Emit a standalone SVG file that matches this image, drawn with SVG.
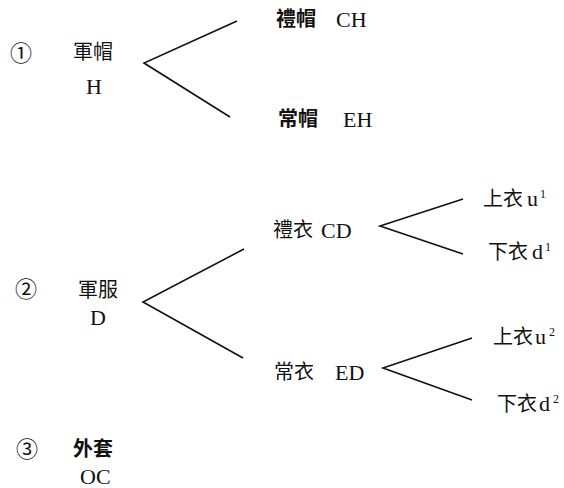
<svg xmlns="http://www.w3.org/2000/svg" width="564" height="488" viewBox="0 0 564 488">
<style>
.cjk{font-family:"Noto Sans CJK TC","Noto Sans CJK SC",sans-serif;font-size:20px;fill:#111}
.b{font-weight:bold}
.lat{font-family:"Liberation Serif","Times New Roman",serif;font-size:22px;fill:#111}
.sup{font-family:"Liberation Serif","Times New Roman",serif;font-size:12px;fill:#111}
.num{font-family:"DejaVu Serif","Noto Sans CJK TC",serif;font-size:22px;fill:#111}
.ln{fill:none;stroke:#111;stroke-width:1.6;stroke-linejoin:miter}
</style>
<rect width="564" height="488" fill="#fff"/>
<g id="connectors">
<polyline class="ln" points="237,21 144,63 230,117"/>
<polyline class="ln" points="244,249 143,302 243,358"/>
<polyline class="ln" points="463,199 380,226 463,254"/>
<polyline class="ln" points="472,338 383,368 472,400"/>
</g>
<g id="n1">
<text class="num" x="10" y="61">①</text>
<text class="cjk" x="73" y="59">軍帽</text>
<text class="lat" x="86" y="94">H</text>
</g>
<g id="n1a">
<text class="cjk b" x="276" y="26">禮帽</text>
<text class="lat" x="336" y="27">CH</text>
</g>
<g id="n1b">
<text class="cjk b" x="278" y="126">常帽</text>
<text class="lat" x="343" y="127">EH</text>
</g>
<g id="n2">
<text class="num" x="15" y="297">②</text>
<text class="cjk" x="78" y="297">軍服</text>
<text class="lat" x="90" y="325">D</text>
</g>
<g id="n2a">
<text class="cjk" x="273" y="237">禮衣</text>
<text class="lat" x="321" y="238">CD</text>
</g>
<g id="n2a1">
<text class="cjk" x="483" y="206">上衣</text>
<text class="lat" x="527" y="206">u</text>
<text class="sup" x="540" y="198">1</text>
</g>
<g id="n2a2">
<text class="cjk" x="488" y="259">下衣</text>
<text class="lat" x="532" y="259">d</text>
<text class="sup" x="545" y="251">1</text>
</g>
<g id="n2b">
<text class="cjk" x="274" y="379">常衣</text>
<text class="lat" x="335" y="380">ED</text>
</g>
<g id="n2b1">
<text class="cjk" x="493" y="344">上衣</text>
<text class="lat" x="535" y="344">u</text>
<text class="sup" x="549" y="336">2</text>
</g>
<g id="n2b2">
<text class="cjk" x="497" y="411">下衣</text>
<text class="lat" x="539" y="411">d</text>
<text class="sup" x="553" y="403">2</text>
</g>
<g id="n3">
<text class="num" x="16" y="457">③</text>
<text class="cjk b" x="73" y="456">外套</text>
<text class="lat" x="80" y="484">OC</text>
</g>
</svg>
